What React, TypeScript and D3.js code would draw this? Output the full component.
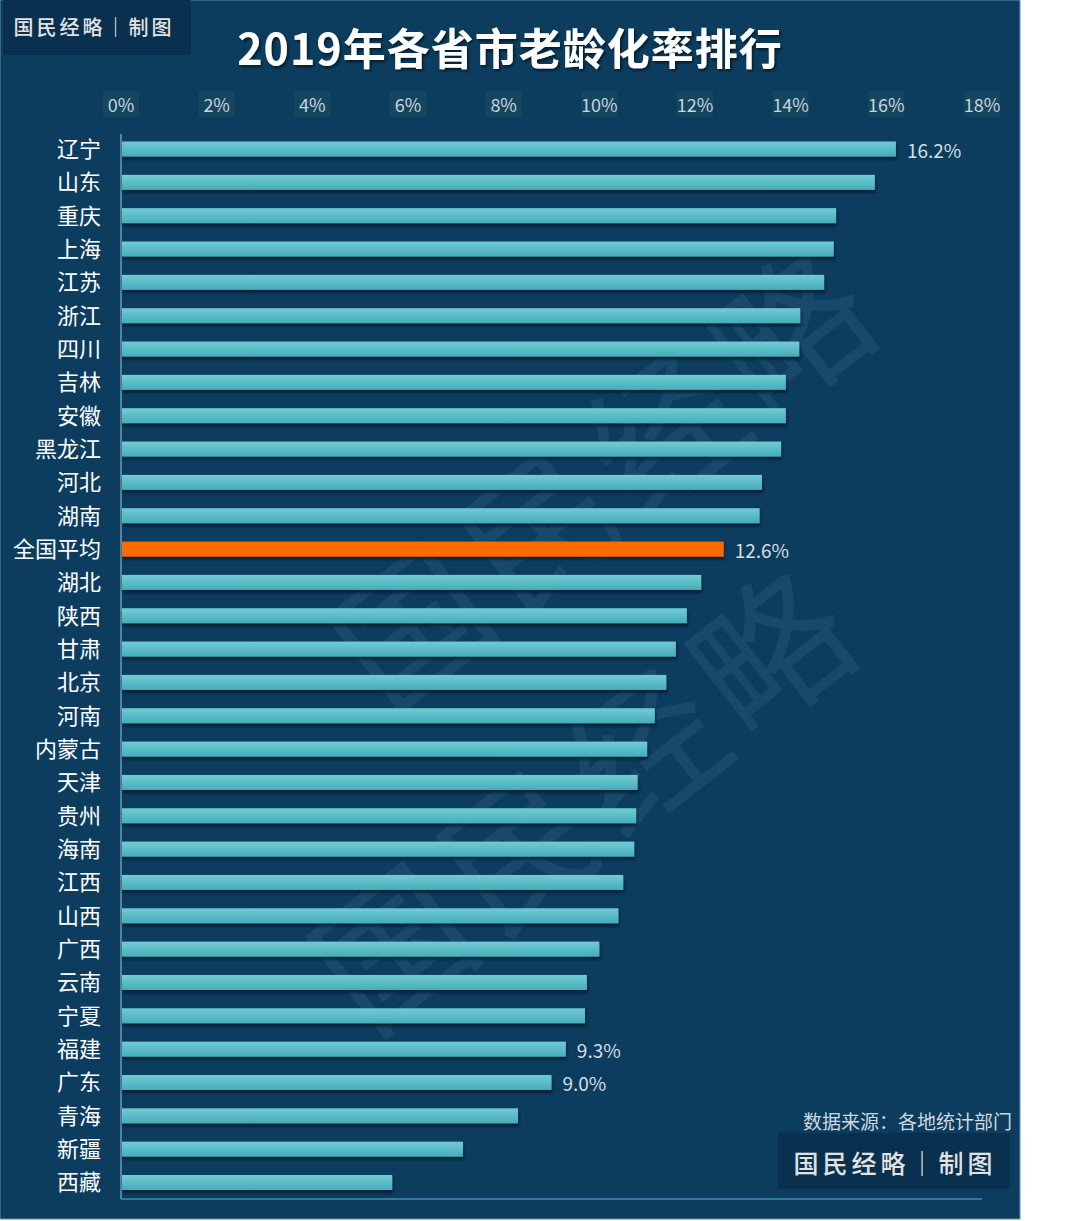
import { useRef, useEffect } from 'react'
import * as d3 from 'd3'

const provinces = ['辽宁', '山东', '重庆', '上海', '江苏', '浙江', '四川', '吉林', '安徽', '黑龙江', '河北', '湖南', '全国平均', '湖北', '陕西', '甘肃', '北京', '河南', '内蒙古', '天津', '贵州', '海南', '江西', '山西', '广西', '云南', '宁夏', '福建', '广东', '青海', '新疆', '西藏']
const rates = [16.2, 15.76, 14.95, 14.9, 14.7, 14.2, 14.18, 13.9, 13.9, 13.8, 13.4, 13.35, 12.6, 12.13, 11.83, 11.6, 11.4, 11.16, 11.0, 10.8, 10.77, 10.73, 10.5, 10.4, 10.0, 9.74, 9.7, 9.3, 9.0, 8.3, 7.15, 5.67]
const labelled = ['辽宁', '全国平均', '福建', '广东']
const ticks = [0, 2, 4, 6, 8, 10, 12, 14, 16, 18]

const W = 1080
const H = 1221
const FONT = '"Noto Sans CJK SC", "Noto Sans", sans-serif'

const App = () => {
  const svgRef = useRef<SVGSVGElement>(null)

  useEffect(() => {
    if (!svgRef.current) return
    const svg = d3.select(svgRef.current)
    svg.selectAll('*').remove()

    const rows = provinces.map((p, i) => ({ name: p, value: rates[i] }))

    const x = d3.scaleLinear().domain([0, 18]).range([121, 982])
    const y = d3.scaleBand().domain(provinces).range([132.5, 1199]).paddingInner(0.55).paddingOuter(0.27)

    const defs = svg.append('defs')
    const grad = defs.append('linearGradient').attr('id', 'barGrad').attr('x1', 0).attr('y1', 0).attr('x2', 0).attr('y2', 1)
    grad.append('stop').attr('offset', '0%').attr('stop-color', '#72cbd3')
    grad.append('stop').attr('offset', '100%').attr('stop-color', '#44aebb')
    const shadow = defs.append('filter').attr('id', 'shadow').attr('x', '-5%').attr('y', '-50%').attr('width', '110%').attr('height', '250%')
    shadow.append('feDropShadow').attr('dx', 1).attr('dy', 3).attr('stdDeviation', 1.5).attr('flood-color', '#021a2c').attr('flood-opacity', 0.8)
    const tshadow = defs.append('filter').attr('id', 'tshadow')
    tshadow.append('feDropShadow').attr('dx', 1.5).attr('dy', 2).attr('stdDeviation', 1.5).attr('flood-color', '#000').attr('flood-opacity', 0.6)

    // background
    svg.append('rect').attr('width', W).attr('height', H).attr('fill', '#ffffff')
    svg.append('rect').attr('x', 0).attr('y', 0).attr('width', 1020).attr('height', 1219)
      .attr('fill', '#0c3d5f').attr('stroke', '#5b8fb0').attr('stroke-width', 1)

    // watermark
    const wm = svg.append('g').attr('fill', '#8fb8c8').attr('opacity', 0.1)
      .style('font-family', FONT).style('font-weight', 'normal')
    ;[[600, 470], [580, 790]].forEach(([cx, cy]) => {
      wm.append('text').attr('transform', `translate(${cx},${cy}) rotate(-38)`)
        .attr('text-anchor', 'middle').attr('dominant-baseline', 'central')
        .style('font-size', '150px').attr('letter-spacing', 10).text('国民经略')
    })

    // top-left logo
    svg.append('rect').attr('x', 3).attr('y', 0).attr('width', 188).attr('height', 55).attr('fill', '#09304f')
    svg.append('text').attr('x', 94).attr('y', 26).attr('text-anchor', 'middle').attr('dominant-baseline', 'central')
      .attr('fill', '#e2e2e2').attr('letter-spacing', 3)
      .style('font-family', FONT).style('font-size', '20px').style('font-weight', 500)
      .text('国民经略｜制图')

    // title
    svg.append('text').attr('x', 510).attr('y', 46).attr('text-anchor', 'middle').attr('dominant-baseline', 'central')
      .attr('fill', '#ffffff').attr('filter', 'url(#tshadow)').attr('letter-spacing', 1)
      .style('font-family', FONT).style('font-size', '43px').style('font-weight', 'bold')
      .text('2019年各省市老龄化率排行')

    // tick labels
    const tickG = svg.append('g')
    ticks.forEach(t => {
      tickG.append('rect').attr('x', x(t) - 18).attr('y', 91).attr('width', 36).attr('height', 26)
        .attr('fill', '#1f5560').attr('opacity', 0.45)
      tickG.append('text').attr('x', x(t)).attr('y', 104).attr('text-anchor', 'middle').attr('dominant-baseline', 'central')
        .attr('fill', '#c9d3da').style('font-family', FONT).style('font-size', '18px').text(`${t}%`)
    })

    // axis lines
    svg.append('line').attr('x1', 121).attr('x2', 121).attr('y1', 134).attr('y2', 1199)
      .attr('stroke', '#6f9bb5').attr('stroke-width', 1.5)
    svg.append('line').attr('x1', 121).attr('x2', 982).attr('y1', 1199).attr('y2', 1199)
      .attr('stroke', '#3a8fb8').attr('stroke-width', 1.5)

    // bars
    svg.append('g').selectAll('rect').data(rows).join('rect')
      .attr('x', x(0) + 1)
      .attr('y', d => y(d.name)!)
      .attr('width', d => x(d.value) - x(0) - 1)
      .attr('height', y.bandwidth())
      .attr('fill', d => (d.name === '全国平均' ? '#ff6a00' : 'url(#barGrad)'))
      .attr('filter', 'url(#shadow)')

    // category labels
    svg.append('g').selectAll('text').data(rows).join('text')
      .attr('x', 101)
      .attr('y', d => y(d.name)! + y.bandwidth() / 2 - 2)
      .attr('text-anchor', 'end').attr('dominant-baseline', 'central')
      .attr('fill', '#ffffff').style('font-family', FONT).style('font-size', '22px')
      .text(d => d.name)

    // value labels
    svg.append('g').selectAll('text').data(rows.filter(r => labelled.includes(r.name))).join('text')
      .attr('x', d => x(d.value) + 11)
      .attr('y', d => y(d.name)! + y.bandwidth() / 2)
      .attr('dominant-baseline', 'central')
      .attr('fill', '#d6dde3').style('font-family', FONT).style('font-size', '19px')
      .text(d => `${d.value.toFixed(1)}%`)

    // source
    svg.append('text').attr('x', 1012).attr('y', 1120).attr('text-anchor', 'end').attr('dominant-baseline', 'central')
      .attr('fill', '#d0d8df').style('font-family', FONT).style('font-size', '19px')
      .text('数据来源：各地统计部门')

    // bottom-right logo
    svg.append('rect').attr('x', 778).attr('y', 1133).attr('width', 232).attr('height', 56).attr('fill', '#09304f')
    svg.append('text').attr('x', 895).attr('y', 1162).attr('text-anchor', 'middle').attr('dominant-baseline', 'central')
      .attr('fill', '#e2e2e2').attr('letter-spacing', 4)
      .style('font-family', FONT).style('font-size', '25px').style('font-weight', 500)
      .text('国民经略｜制图')
  }, [])

  return (
    <div style={{ position: 'absolute', left: 0, top: 0 }}>
      <svg ref={svgRef} width={W} height={H} style={{ display: 'block' }} />
    </div>
  )
}

export default App
